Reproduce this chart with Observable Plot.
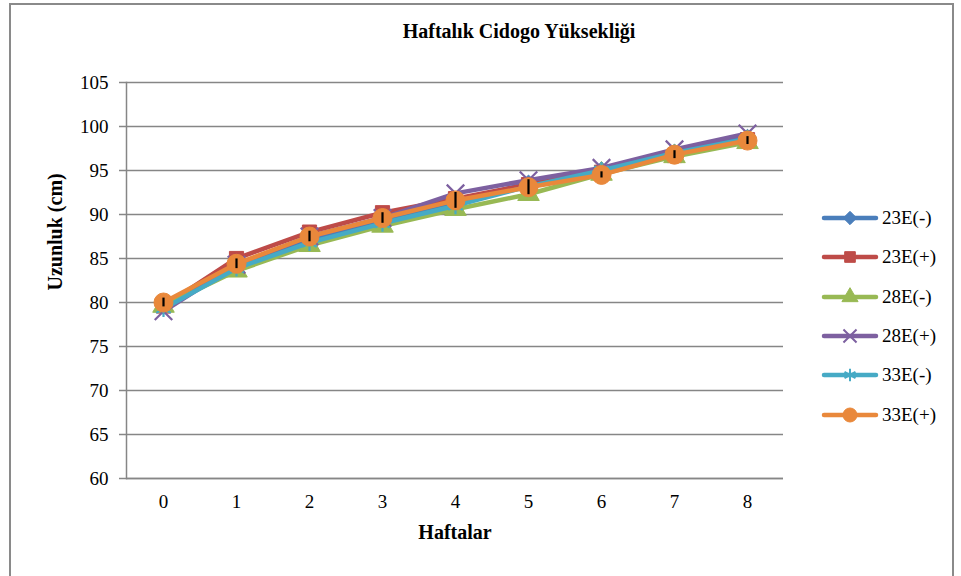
<!DOCTYPE html>
<html>
<head>
<meta charset="utf-8">
<script src="https://cdn.jsdelivr.net/npm/d3@7"></script>
<script src="https://cdn.jsdelivr.net/npm/@observablehq/plot@0.6"></script>
<style>
  html, body { margin: 0; padding: 0; background: #fff; overflow: hidden; }
  body { width: 961px; height: 576px; position: relative; font-family: "Liberation Serif", "DejaVu Serif", serif; }
  #frame { position: absolute; left: 9px; top: 3px; width: 945px; height: 620px; border: 2px solid #8a8a8a; box-sizing: border-box; }
  #chart { position: absolute; left: 0; top: 0; }
  #title { position: absolute; left: 0; width: 1038px; top: 20px; text-align: center; font-family: "Liberation Serif", "DejaVu Serif", serif; font-weight: bold; font-size: 20px; color: #000; }
  .leg { position: absolute; left: 821px; height: 24px; display: flex; align-items: center; font-family: "Liberation Serif", "DejaVu Serif", serif; font-size: 19px; color: #000; }
  .leg svg { margin-right: 3px; }
</style>
</head>
<body>
<div id="frame"></div>
<div id="chart"></div>
<div id="title">Haftalık Cidogo Yüksekliği</div>
<div id="legend"></div>
<script>
const weeks = [0, 1, 2, 3, 4, 5, 6, 7, 8];
const seriesNames = ["23E(-)", "23E(+)", "28E(-)", "28E(+)", "33E(-)", "33E(+)"];
const s23minus = [79.5, 84.0, 87.2, 89.3, 91.3, 93.6, 95.1, 97.1, 98.8];
const s23plus  = [79.6, 85.0, 88.0, 90.2, 91.8, 93.4, 94.8, 96.7, 98.5];
const s28minus = [79.6, 83.6, 86.5, 88.7, 90.6, 92.3, 94.6, 96.6, 98.2];
const s28plus  = [79.0, 84.3, 87.5, 89.6, 92.4, 93.9, 95.3, 97.4, 99.2];
const s33minus = [79.3, 83.9, 86.8, 89.0, 91.0, 93.2, 95.0, 97.0, 98.6];
const s33plus  = [80.0, 84.4, 87.5, 89.6, 91.6, 93.1, 94.5, 96.8, 98.4];
const err33plus = [0.5, 0.55, 0.6, 0.6, 0.9, 0.85, 0.35, 0.45, 0.45];
const yTicks = [60, 65, 70, 75, 80, 85, 90, 95, 100, 105];

const seriesValues = [s23minus, s23plus, s28minus, s28plus, s33minus, s33plus];
const colors = ["#4A7EBB", "#BE4B48", "#98B954", "#7D60A0", "#46AAC5", "#E9883B"];
const symbols = ["diamond2", "square", "triangle", "times", "asterisk", "circle"];
const radii = [7, 8, 8, 8, 8, 9.5];
const d3Symbols = [d3.symbolDiamond2, d3.symbolSquare, d3.symbolTriangle, d3.symbolTimes, d3.symbolAsterisk, d3.symbolCircle];
const strokeOnly = [false, false, false, true, true, false];

const grid = "#868686";
const marks = [
  Plot.gridY({ticks: yTicks, stroke: grid, strokeOpacity: 1, strokeWidth: 1.5}),
  Plot.axisY({ticks: yTicks, tickSize: 7, tickPadding: 11, fontSize: 19, stroke: grid, strokeWidth: 1.5, fill: "#000", label: null}),
  Plot.axisX({tickSize: 0, tickPadding: 16, fontSize: 19, fill: "#000", label: null}),
  Plot.ruleY([60], {stroke: grid, strokeWidth: 1.5}),
  Plot.frame({anchor: "left", stroke: grid, strokeWidth: 1.5}),
  Plot.text(["Haftalar"], {frameAnchor: "bottom", dy: 60, fontSize: 20, fontWeight: "bold", fill: "#000"}),
  Plot.text(["Uzunluk (cm)"], {frameAnchor: "left", dx: -71, dy: 10, rotate: -90, fontSize: 20, fontWeight: "bold", fill: "#000"})
];

seriesNames.forEach((name, i) => {
  const rows = weeks.map((w, j) => ({week: w, value: seriesValues[i][j], err: i === 5 ? err33plus[j] : 0}));
  marks.push(Plot.line(rows, {x: "week", y: "value", stroke: colors[i], strokeWidth: 4.5}));
  if (strokeOnly[i]) {
    marks.push(Plot.dot(rows, {x: "week", y: "value", symbol: symbols[i], r: radii[i], stroke: colors[i], strokeWidth: 2.2, fill: "none"}));
  } else {
    marks.push(Plot.dot(rows, {x: "week", y: "value", symbol: symbols[i], r: radii[i], fill: colors[i], stroke: colors[i], strokeWidth: 1}));
  }
  if (i === 5) {
    marks.push(Plot.ruleX(rows, {x: "week", y1: d => d.value - d.err, y2: d => d.value + d.err, stroke: "#000", strokeWidth: 2.2}));
  }
});

const chart = Plot.plot({
  width: 961,
  height: 576,
  marginLeft: 126,
  marginRight: 178,
  marginTop: 82,
  marginBottom: 98,
  style: {background: "transparent", fontFamily: "'Liberation Serif', 'DejaVu Serif', serif", color: "#000"},
  x: {type: "point", domain: weeks, padding: 0.5},
  y: {domain: [60, 105]},
  marks
});
document.getElementById("chart").appendChild(chart);

const legend = document.getElementById("legend");
const legendTops = [206, 245, 285, 324, 363, 403];
seriesNames.forEach((name, i) => {
  const div = document.createElement("div");
  div.className = "leg";
  div.style.top = legendTops[i] + "px";
  const r = i === 5 ? 7 : 6;
  const path = d3.symbol(d3Symbols[i], Math.PI * r * r)();
  const sym = strokeOnly[i]
    ? `<path d="${path}" transform="translate(29,12)" fill="none" stroke="${colors[i]}" stroke-width="2"/>`
    : `<path d="${path}" transform="translate(29,12)" fill="${colors[i]}" stroke="${colors[i]}"/>`;
  div.innerHTML = `<svg width="58" height="24"><line x1="3" x2="55" y1="12" y2="12" stroke="${colors[i]}" stroke-width="4.5" stroke-linecap="round"/>${sym}</svg><span>${name}</span>`;
  legend.appendChild(div);
});
</script>
</body>
</html>
